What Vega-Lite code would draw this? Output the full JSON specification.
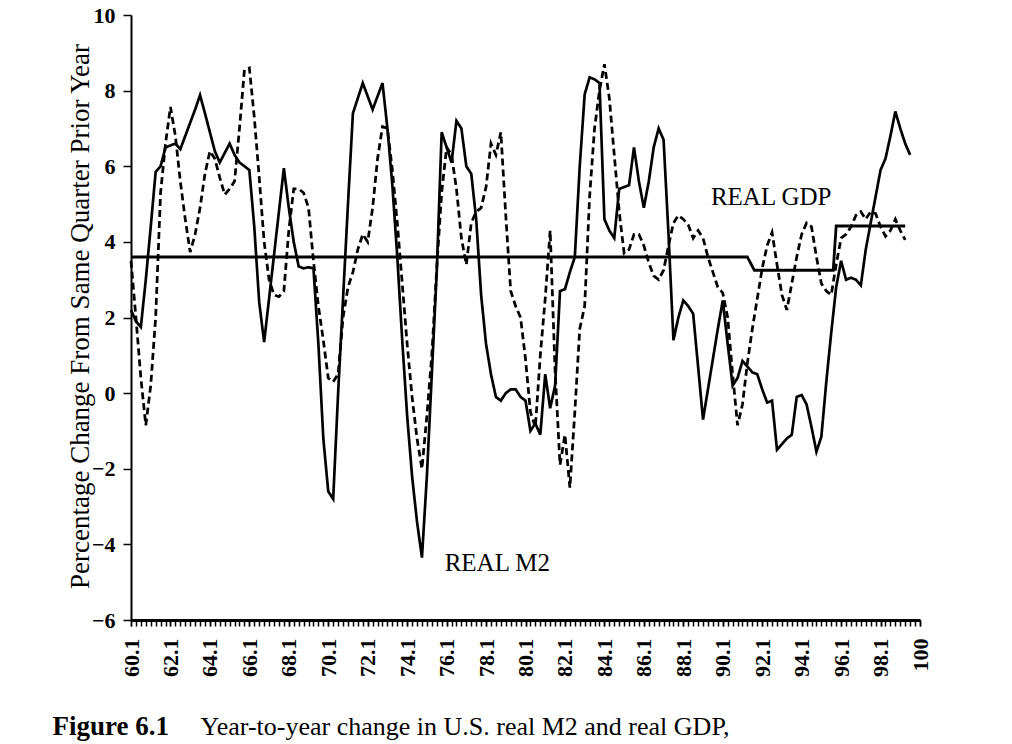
{
  "$schema": "https://vega.github.io/schema/vega-lite/v6.json",
  "width": 789,
  "height": 605,
  "autosize": {"type": "none"},
  "padding": {"left": 131, "top": 15, "right": 92, "bottom": 124},
  "background": "white",
  "config": {"view": {"stroke": null}, "font": "Liberation Serif"},
  "datasets": {
    "series": [
      {"s":"M2","t":60.0,"v":2.2},{"s":"M2","t":60.25,"v":1.9},{"s":"M2","t":60.5,"v":1.75},{"s":"M2","t":60.75,"v":3.0},
      {"s":"M2","t":61.0,"v":4.4},{"s":"M2","t":61.25,"v":5.85},{"s":"M2","t":61.5,"v":6.0},{"s":"M2","t":61.75,"v":6.5},
      {"s":"M2","t":62.0,"v":6.55},{"s":"M2","t":62.25,"v":6.6},{"s":"M2","t":62.5,"v":6.45},{"s":"M2","t":62.75,"v":6.8},
      {"s":"M2","t":63.0,"v":7.15},{"s":"M2","t":63.25,"v":7.5},{"s":"M2","t":63.5,"v":7.88},{"s":"M2","t":63.75,"v":7.4},
      {"s":"M2","t":64.0,"v":6.9},{"s":"M2","t":64.25,"v":6.4},{"s":"M2","t":64.5,"v":6.1},{"s":"M2","t":64.75,"v":6.35},
      {"s":"M2","t":65.0,"v":6.6},{"s":"M2","t":65.25,"v":6.3},{"s":"M2","t":65.5,"v":6.1},{"s":"M2","t":65.75,"v":6.0},
      {"s":"M2","t":66.0,"v":5.9},{"s":"M2","t":66.25,"v":4.4},{"s":"M2","t":66.5,"v":2.4},{"s":"M2","t":66.75,"v":1.35},
      {"s":"M2","t":67.0,"v":2.5},{"s":"M2","t":67.25,"v":3.65},{"s":"M2","t":67.5,"v":4.8},{"s":"M2","t":67.75,"v":5.95},
      {"s":"M2","t":68.0,"v":4.9},{"s":"M2","t":68.25,"v":4.0},{"s":"M2","t":68.5,"v":3.35},{"s":"M2","t":68.75,"v":3.3},
      {"s":"M2","t":69.0,"v":3.33},{"s":"M2","t":69.25,"v":3.3},{"s":"M2","t":69.5,"v":1.3},{"s":"M2","t":69.75,"v":-1.2},
      {"s":"M2","t":70.0,"v":-2.6},{"s":"M2","t":70.25,"v":-2.8},{"s":"M2","t":70.5,"v":0.0},{"s":"M2","t":70.75,"v":2.5},
      {"s":"M2","t":71.0,"v":5.0},{"s":"M2","t":71.25,"v":7.4},{"s":"M2","t":71.5,"v":7.8},{"s":"M2","t":71.75,"v":8.2},
      {"s":"M2","t":72.0,"v":7.85},{"s":"M2","t":72.25,"v":7.5},{"s":"M2","t":72.5,"v":7.85},{"s":"M2","t":72.75,"v":8.2},
      {"s":"M2","t":73.0,"v":7.0},{"s":"M2","t":73.25,"v":5.5},{"s":"M2","t":73.5,"v":3.6},{"s":"M2","t":73.75,"v":1.4},
      {"s":"M2","t":74.0,"v":-0.6},{"s":"M2","t":74.25,"v":-2.2},{"s":"M2","t":74.5,"v":-3.4},{"s":"M2","t":74.75,"v":-4.35},
      {"s":"M2","t":75.0,"v":-2.2},{"s":"M2","t":75.25,"v":0.5},{"s":"M2","t":75.5,"v":3.2},{"s":"M2","t":75.75,"v":6.9},
      {"s":"M2","t":76.0,"v":6.5},{"s":"M2","t":76.25,"v":6.1},{"s":"M2","t":76.5,"v":7.2},{"s":"M2","t":76.75,"v":7.0},
      {"s":"M2","t":77.0,"v":6.0},{"s":"M2","t":77.25,"v":5.8},{"s":"M2","t":77.5,"v":4.6},{"s":"M2","t":77.75,"v":2.6},
      {"s":"M2","t":78.0,"v":1.3},{"s":"M2","t":78.25,"v":0.5},{"s":"M2","t":78.5,"v":-0.1},{"s":"M2","t":78.75,"v":-0.2},
      {"s":"M2","t":79.0,"v":0.0},{"s":"M2","t":79.25,"v":0.1},{"s":"M2","t":79.5,"v":0.1},{"s":"M2","t":79.75,"v":-0.1},
      {"s":"M2","t":80.0,"v":-0.2},{"s":"M2","t":80.25,"v":-1.0},{"s":"M2","t":80.5,"v":-0.8},{"s":"M2","t":80.75,"v":-1.1},
      {"s":"M2","t":81.0,"v":0.5},{"s":"M2","t":81.25,"v":-0.4},{"s":"M2","t":81.5,"v":0.2},{"s":"M2","t":81.75,"v":2.7},
      {"s":"M2","t":82.0,"v":2.75},{"s":"M2","t":82.25,"v":3.2},{"s":"M2","t":82.5,"v":3.6},{"s":"M2","t":82.75,"v":6.0},
      {"s":"M2","t":83.0,"v":7.9},{"s":"M2","t":83.25,"v":8.35},{"s":"M2","t":83.5,"v":8.3},{"s":"M2","t":83.75,"v":8.2},
      {"s":"M2","t":84.0,"v":4.6},{"s":"M2","t":84.25,"v":4.3},{"s":"M2","t":84.5,"v":4.1},{"s":"M2","t":84.75,"v":5.4},
      {"s":"M2","t":85.0,"v":5.45},{"s":"M2","t":85.25,"v":5.5},{"s":"M2","t":85.5,"v":6.5},{"s":"M2","t":85.75,"v":5.6},
      {"s":"M2","t":86.0,"v":4.9},{"s":"M2","t":86.25,"v":5.6},{"s":"M2","t":86.5,"v":6.5},{"s":"M2","t":86.75,"v":7.0},
      {"s":"M2","t":87.0,"v":6.7},{"s":"M2","t":87.25,"v":4.2},{"s":"M2","t":87.5,"v":1.4},{"s":"M2","t":87.75,"v":2.0},
      {"s":"M2","t":88.0,"v":2.45},{"s":"M2","t":88.25,"v":2.3},{"s":"M2","t":88.5,"v":2.1},{"s":"M2","t":88.75,"v":0.7},
      {"s":"M2","t":89.0,"v":-0.7},{"s":"M2","t":89.25,"v":0.1},{"s":"M2","t":89.5,"v":0.9},{"s":"M2","t":89.75,"v":1.7},
      {"s":"M2","t":90.0,"v":2.45},{"s":"M2","t":90.25,"v":1.3},{"s":"M2","t":90.5,"v":0.2},{"s":"M2","t":90.75,"v":0.4},
      {"s":"M2","t":91.0,"v":0.85},{"s":"M2","t":91.25,"v":0.7},{"s":"M2","t":91.5,"v":0.55},{"s":"M2","t":91.75,"v":0.5},
      {"s":"M2","t":92.0,"v":0.1},{"s":"M2","t":92.25,"v":-0.25},{"s":"M2","t":92.5,"v":-0.2},{"s":"M2","t":92.75,"v":-1.5},
      {"s":"M2","t":93.0,"v":-1.35},{"s":"M2","t":93.25,"v":-1.2},{"s":"M2","t":93.5,"v":-1.1},{"s":"M2","t":93.75,"v":-0.1},
      {"s":"M2","t":94.0,"v":-0.05},{"s":"M2","t":94.25,"v":-0.3},{"s":"M2","t":94.5,"v":-0.9},{"s":"M2","t":94.75,"v":-1.55},
      {"s":"M2","t":95.0,"v":-1.15},{"s":"M2","t":95.25,"v":0.3},{"s":"M2","t":95.5,"v":1.6},{"s":"M2","t":95.75,"v":2.8},
      {"s":"M2","t":96.0,"v":3.5},{"s":"M2","t":96.25,"v":3.0},{"s":"M2","t":96.5,"v":3.05},{"s":"M2","t":96.75,"v":3.0},
      {"s":"M2","t":97.0,"v":2.85},{"s":"M2","t":97.25,"v":3.8},{"s":"M2","t":97.5,"v":4.5},{"s":"M2","t":97.75,"v":5.2},
      {"s":"M2","t":98.0,"v":5.9},{"s":"M2","t":98.25,"v":6.2},{"s":"M2","t":98.5,"v":6.8},{"s":"M2","t":98.75,"v":7.45},
      {"s":"M2","t":99.0,"v":7.0},{"s":"M2","t":99.25,"v":6.6},{"s":"M2","t":99.5,"v":6.3},

      {"s":"GDP","t":60.0,"v":3.5},{"s":"GDP","t":60.25,"v":2.0},{"s":"GDP","t":60.5,"v":0.4},{"s":"GDP","t":60.75,"v":-0.85},
      {"s":"GDP","t":61.0,"v":0.2},{"s":"GDP","t":61.25,"v":2.0},{"s":"GDP","t":61.5,"v":5.3},{"s":"GDP","t":61.75,"v":6.6},
      {"s":"GDP","t":62.0,"v":7.57},{"s":"GDP","t":62.25,"v":6.8},{"s":"GDP","t":62.5,"v":5.6},{"s":"GDP","t":62.75,"v":4.6},
      {"s":"GDP","t":63.0,"v":3.73},{"s":"GDP","t":63.25,"v":4.2},{"s":"GDP","t":63.5,"v":4.9},{"s":"GDP","t":63.75,"v":5.8},
      {"s":"GDP","t":64.0,"v":6.4},{"s":"GDP","t":64.25,"v":6.2},{"s":"GDP","t":64.5,"v":5.7},{"s":"GDP","t":64.75,"v":5.25},
      {"s":"GDP","t":65.0,"v":5.4},{"s":"GDP","t":65.25,"v":5.6},{"s":"GDP","t":65.5,"v":7.0},{"s":"GDP","t":65.75,"v":8.55},
      {"s":"GDP","t":66.0,"v":8.6},{"s":"GDP","t":66.25,"v":7.3},{"s":"GDP","t":66.5,"v":5.7},{"s":"GDP","t":66.75,"v":4.0},
      {"s":"GDP","t":67.0,"v":3.0},{"s":"GDP","t":67.25,"v":2.6},{"s":"GDP","t":67.5,"v":2.55},{"s":"GDP","t":67.75,"v":2.7},
      {"s":"GDP","t":68.0,"v":4.3},{"s":"GDP","t":68.25,"v":5.4},{"s":"GDP","t":68.5,"v":5.4},{"s":"GDP","t":68.75,"v":5.3},
      {"s":"GDP","t":69.0,"v":4.9},{"s":"GDP","t":69.25,"v":3.5},{"s":"GDP","t":69.5,"v":2.3},{"s":"GDP","t":69.75,"v":1.4},
      {"s":"GDP","t":70.0,"v":0.4},{"s":"GDP","t":70.25,"v":0.3},{"s":"GDP","t":70.5,"v":0.5},{"s":"GDP","t":70.75,"v":2.0},
      {"s":"GDP","t":71.0,"v":2.8},{"s":"GDP","t":71.25,"v":3.2},{"s":"GDP","t":71.5,"v":3.8},{"s":"GDP","t":71.75,"v":4.2},
      {"s":"GDP","t":72.0,"v":4.0},{"s":"GDP","t":72.25,"v":4.9},{"s":"GDP","t":72.5,"v":6.2},{"s":"GDP","t":72.75,"v":7.05},
      {"s":"GDP","t":73.0,"v":7.0},{"s":"GDP","t":73.25,"v":5.9},{"s":"GDP","t":73.5,"v":4.5},{"s":"GDP","t":73.75,"v":2.9},
      {"s":"GDP","t":74.0,"v":1.3},{"s":"GDP","t":74.25,"v":-0.1},{"s":"GDP","t":74.5,"v":-1.2},{"s":"GDP","t":74.75,"v":-2.0},
      {"s":"GDP","t":75.0,"v":-0.6},{"s":"GDP","t":75.25,"v":1.0},{"s":"GDP","t":75.5,"v":3.3},{"s":"GDP","t":75.75,"v":5.3},
      {"s":"GDP","t":76.0,"v":6.5},{"s":"GDP","t":76.25,"v":6.3},{"s":"GDP","t":76.5,"v":5.4},{"s":"GDP","t":76.75,"v":4.1},
      {"s":"GDP","t":77.0,"v":3.4},{"s":"GDP","t":77.25,"v":4.5},{"s":"GDP","t":77.5,"v":4.8},{"s":"GDP","t":77.75,"v":4.9},
      {"s":"GDP","t":78.0,"v":5.45},{"s":"GDP","t":78.25,"v":6.6},{"s":"GDP","t":78.5,"v":6.3},{"s":"GDP","t":78.75,"v":6.9},
      {"s":"GDP","t":79.0,"v":4.7},{"s":"GDP","t":79.25,"v":2.7},{"s":"GDP","t":79.5,"v":2.3},{"s":"GDP","t":79.75,"v":2.0},
      {"s":"GDP","t":80.0,"v":0.9},{"s":"GDP","t":80.25,"v":-0.5},{"s":"GDP","t":80.5,"v":-0.9},{"s":"GDP","t":80.75,"v":1.0},
      {"s":"GDP","t":81.0,"v":2.5},{"s":"GDP","t":81.25,"v":4.3},{"s":"GDP","t":81.5,"v":0.6},{"s":"GDP","t":81.75,"v":-1.9},
      {"s":"GDP","t":82.0,"v":-1.1},{"s":"GDP","t":82.25,"v":-2.5},{"s":"GDP","t":82.5,"v":-0.5},{"s":"GDP","t":82.75,"v":1.7},
      {"s":"GDP","t":83.0,"v":2.3},{"s":"GDP","t":83.25,"v":5.2},{"s":"GDP","t":83.5,"v":7.0},{"s":"GDP","t":83.75,"v":8.0},
      {"s":"GDP","t":84.0,"v":8.7},{"s":"GDP","t":84.25,"v":7.8},{"s":"GDP","t":84.5,"v":6.3},{"s":"GDP","t":84.75,"v":4.8},
      {"s":"GDP","t":85.0,"v":3.7},{"s":"GDP","t":85.25,"v":3.8},{"s":"GDP","t":85.5,"v":4.2},{"s":"GDP","t":85.75,"v":4.2},
      {"s":"GDP","t":86.0,"v":3.9},{"s":"GDP","t":86.25,"v":3.45},{"s":"GDP","t":86.5,"v":3.1},{"s":"GDP","t":86.75,"v":3.0},
      {"s":"GDP","t":87.0,"v":3.25},{"s":"GDP","t":87.25,"v":3.9},{"s":"GDP","t":87.5,"v":4.5},{"s":"GDP","t":87.75,"v":4.7},
      {"s":"GDP","t":88.0,"v":4.6},{"s":"GDP","t":88.25,"v":4.45},{"s":"GDP","t":88.5,"v":4.1},{"s":"GDP","t":88.75,"v":4.3},
      {"s":"GDP","t":89.0,"v":4.1},{"s":"GDP","t":89.25,"v":3.6},{"s":"GDP","t":89.5,"v":3.2},{"s":"GDP","t":89.75,"v":2.8},
      {"s":"GDP","t":90.0,"v":2.65},{"s":"GDP","t":90.25,"v":2.0},{"s":"GDP","t":90.5,"v":0.5},{"s":"GDP","t":90.75,"v":-0.85},
      {"s":"GDP","t":91.0,"v":-0.3},{"s":"GDP","t":91.25,"v":0.8},{"s":"GDP","t":91.5,"v":1.7},{"s":"GDP","t":91.75,"v":2.5},
      {"s":"GDP","t":92.0,"v":3.3},{"s":"GDP","t":92.25,"v":3.9},{"s":"GDP","t":92.5,"v":4.25},{"s":"GDP","t":92.75,"v":3.4},
      {"s":"GDP","t":93.0,"v":2.6},{"s":"GDP","t":93.25,"v":2.2},{"s":"GDP","t":93.5,"v":2.9},{"s":"GDP","t":93.75,"v":3.6},
      {"s":"GDP","t":94.0,"v":4.2},{"s":"GDP","t":94.25,"v":4.5},{"s":"GDP","t":94.5,"v":4.4},{"s":"GDP","t":94.75,"v":3.6},
      {"s":"GDP","t":95.0,"v":2.9},{"s":"GDP","t":95.25,"v":2.7},{"s":"GDP","t":95.5,"v":2.6},{"s":"GDP","t":95.75,"v":3.4},
      {"s":"GDP","t":96.0,"v":4.1},{"s":"GDP","t":96.25,"v":4.2},{"s":"GDP","t":96.5,"v":4.4},{"s":"GDP","t":96.75,"v":4.7},
      {"s":"GDP","t":97.0,"v":4.8},{"s":"GDP","t":97.25,"v":4.6},{"s":"GDP","t":97.5,"v":4.8},{"s":"GDP","t":97.75,"v":4.75},
      {"s":"GDP","t":98.0,"v":4.4},{"s":"GDP","t":98.25,"v":4.15},{"s":"GDP","t":98.5,"v":4.3},{"s":"GDP","t":98.75,"v":4.6},
      {"s":"GDP","t":99.0,"v":4.3},{"s":"GDP","t":99.25,"v":4.05},

      {"s":"REF","t":60.0,"v":3.6},{"s":"REF","t":91.25,"v":3.6},{"s":"REF","t":91.6,"v":3.25},{"s":"REF","t":95.6,"v":3.25},
      {"s":"REF","t":95.75,"v":4.42},{"s":"REF","t":99.25,"v":4.42}
    ],
    "labels": [
      {"label":"REAL GDP","t":89.4,"v":5.2},
      {"label":"REAL M2","t":75.9,"v":-4.5}
    ]
  },
  "resolve": {"axis": {"x": "independent"}},
  "layer": [
    {
      "data": {"name": "series"},
      "mark": {"type": "line", "color": "black", "strokeJoin": "miter", "strokeCap": "butt"},
      "encoding": {
        "x": {"field": "t", "type": "quantitative",
          "scale": {"domain": [60, 100], "nice": false, "zero": false},
          "axis": {
            "orient": "bottom",
            "values": [60,60.25,60.5,60.75,61,61.25,61.5,61.75,62,62.25,62.5,62.75,63,63.25,63.5,63.75,64,64.25,64.5,64.75,65,65.25,65.5,65.75,66,66.25,66.5,66.75,67,67.25,67.5,67.75,68,68.25,68.5,68.75,69,69.25,69.5,69.75,70,70.25,70.5,70.75,71,71.25,71.5,71.75,72,72.25,72.5,72.75,73,73.25,73.5,73.75,74,74.25,74.5,74.75,75,75.25,75.5,75.75,76,76.25,76.5,76.75,77,77.25,77.5,77.75,78,78.25,78.5,78.75,79,79.25,79.5,79.75,80,80.25,80.5,80.75,81,81.25,81.5,81.75,82,82.25,82.5,82.75,83,83.25,83.5,83.75,84,84.25,84.5,84.75,85,85.25,85.5,85.75,86,86.25,86.5,86.75,87,87.25,87.5,87.75,88,88.25,88.5,88.75,89,89.25,89.5,89.75,90,90.25,90.5,90.75,91,91.25,91.5,91.75,92,92.25,92.5,92.75,93,93.25,93.5,93.75,94,94.25,94.5,94.75,95,95.25,95.5,95.75,96,96.25,96.5,96.75,97,97.25,97.5,97.75,98,98.25,98.5,98.75,99,99.25,99.5,99.75,100],
            "labels": false,
            "tickSize": 6, "tickWidth": 1.5, "tickColor": "black",
            "domainColor": "black", "domainWidth": 3, "grid": false,
            "title": "Year-to-year change in U.S. real M2 and real GDP,",
            "titleFont": "Liberation Serif", "titleFontSize": 26, "titleFontWeight": "normal", "titleColor": "black",
            "titleAlign": "left", "titleBaseline": "alphabetic", "titleAnchor": "start", "titleX": 69, "titleY": 114
          }
        },
        "y": {"field": "v", "type": "quantitative",
          "scale": {"domain": [-6, 10], "nice": false, "zero": false},
          "axis": {
            "values": [-6,-4,-2,0,2,4,6,8,10],
            "labelFont": "Liberation Serif", "labelFontSize": 22, "labelFontWeight": "bold", "labelColor": "black",
            "labelPadding": 8, "tickSize": 8, "tickWidth": 1.5, "tickColor": "black",
            "domainColor": "black", "domainWidth": 2, "grid": false,
            "title": "Percentage Change From Same Quarter Prior Year",
            "titleFont": "Liberation Serif", "titleFontSize": 27, "titleFontWeight": "normal", "titleColor": "black",
            "titleAngle": -90, "titleAlign": "center", "titleBaseline": "alphabetic", "titleX": -43, "titleY": 301
          }
        },
        "detail": {"field": "s"},
        "strokeDash": {"field": "s", "type": "nominal", "scale": {"domain": ["M2", "GDP", "REF"], "range": [[1, 0], [7, 4], [1, 0]]}, "legend": null},
        "strokeWidth": {"field": "s", "type": "nominal", "scale": {"domain": ["M2", "GDP", "REF"], "range": [2.7, 2.8, 1.5]}, "legend": null}
      }
    },
    {
      "data": {"name": "labels"},
      "mark": {"type": "text", "align": "left", "baseline": "middle", "font": "Liberation Serif", "fontSize": 25, "color": "black"},
      "encoding": {
        "x": {"field": "t", "type": "quantitative",
          "axis": {
            "orient": "bottom",
            "values": [60,62,64,66,68,70,72,74,76,78,80,82,84,86,88,90,92,94,96,98,100],
            "labelExpr": "datum.value == 100 ? '100' : datum.value + '.1'",
            "labelAngle": -90, "labelAlign": "right", "labelBaseline": "middle",
            "labelFont": "Liberation Serif", "labelFontSize": 22, "labelFontWeight": "bold", "labelColor": "black",
            "labelOverlap": false, "labelFlush": false, "labelBound": false, "labelPadding": 12,
            "ticks": true, "tickSize": 6, "tickWidth": 1.5, "tickColor": "black", "domain": false, "grid": false,
            "title": "Figure 6.1",
            "titleFont": "Liberation Serif", "titleFontSize": 27, "titleFontWeight": "bold", "titleColor": "black",
            "titleAlign": "left", "titleBaseline": "alphabetic", "titleAnchor": "start", "titleX": -79, "titleY": 114
          }
        },
        "y": {"field": "v", "type": "quantitative"},
        "text": {"field": "label"}
      }
    }
  ]
}
